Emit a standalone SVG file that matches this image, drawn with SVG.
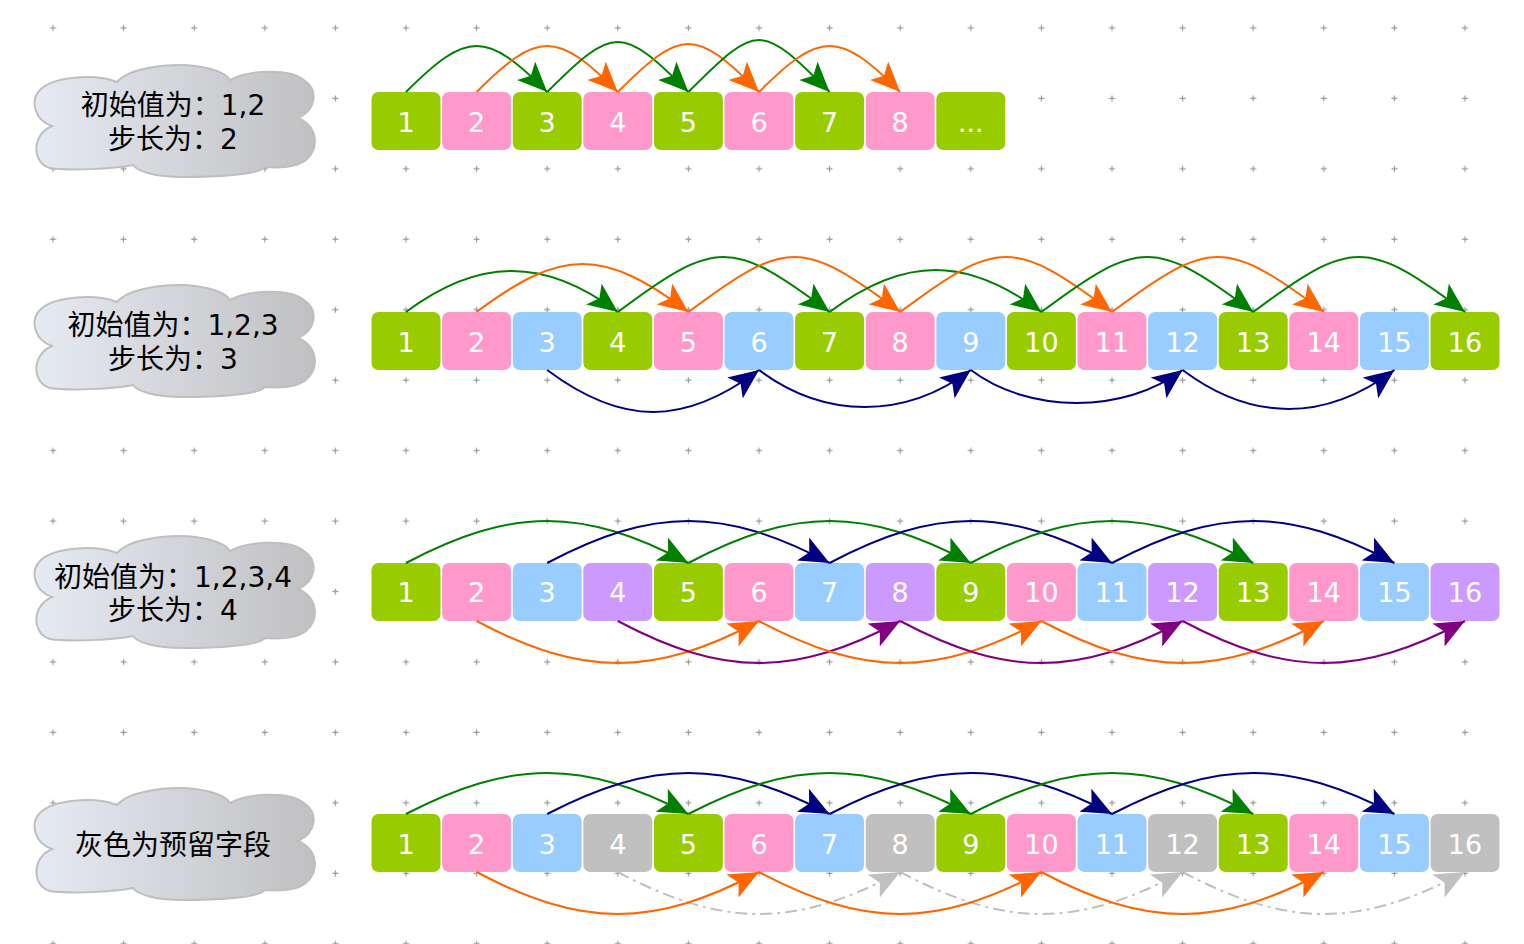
<svg xmlns="http://www.w3.org/2000/svg" xmlns:xlink="http://www.w3.org/1999/xlink" width="1524" height="944" viewBox="0 0 1524 944">
<style>
.g{fill:#99cc00}.p{fill:#ff99cc}.b{fill:#99ccff}.v{fill:#cc99ff}.x{fill:#c0c0c0}
.t{font-family:"DejaVu Sans",sans-serif;font-size:27px;fill:#ffffff;text-anchor:middle}
.ct{font-family:"DejaVu Sans","Noto Sans CJK SC",sans-serif;font-size:28px;fill:#000000;text-anchor:middle}
.cl{fill:url(#cg);stroke:#bfbfbf;stroke-width:2}
.a{fill:none;stroke-width:2}
.aG{stroke:#008000;marker-end:url(#mG)}
.aO{stroke:#ff6600;marker-end:url(#mO)}
.aN{stroke:#000080;marker-end:url(#mN)}
.aP{stroke:#800080;marker-end:url(#mP)}
.aX{stroke:#c0c0c0;stroke-dasharray:12 5 3 5;marker-end:url(#mX)}
</style>
<defs>
<linearGradient id="cg" x1="0" y1="0" x2="1" y2="0">
<stop offset="0" stop-color="#e6eaf2"/>
<stop offset="1" stop-color="#c0c0c2"/>
</linearGradient>
<pattern id="grid" patternUnits="userSpaceOnUse" x="17.7" y="-7.2" width="70.6" height="70.45">
<path d="M32.3,35.2 h6 M35.3,32.2 v6" stroke="#999999" stroke-width="1.2" fill="none"/>
</pattern>
<path id="cloud" d="M18,61 C0,55 -4,35 6,25 C18,12 60,8 83,17 C95,3 130,0 146,0 C165,0 190,5 196,15 C215,5 255,3 270,15 C285,25 282,45 264,53 C285,62 285,85 272,95 C262,103 245,103 231,102 C225,110 180,112 149,112 C120,112 103,106 99,100 C80,104 35,106 16,103 C-2,98 -3,70 18,61 Z"/>
<marker id="mG" markerUnits="userSpaceOnUse" markerWidth="31" markerHeight="26" viewBox="0 0 31 26" refX="30" refY="13" orient="auto"><path d="M0,0 L30,13 L0,26 L7,13 Z" fill="#008000"/></marker>
<marker id="mO" markerUnits="userSpaceOnUse" markerWidth="31" markerHeight="26" viewBox="0 0 31 26" refX="30" refY="13" orient="auto"><path d="M0,0 L30,13 L0,26 L7,13 Z" fill="#ff6600"/></marker>
<marker id="mN" markerUnits="userSpaceOnUse" markerWidth="31" markerHeight="26" viewBox="0 0 31 26" refX="30" refY="13" orient="auto"><path d="M0,0 L30,13 L0,26 L7,13 Z" fill="#000080"/></marker>
<marker id="mP" markerUnits="userSpaceOnUse" markerWidth="31" markerHeight="26" viewBox="0 0 31 26" refX="30" refY="13" orient="auto"><path d="M0,0 L30,13 L0,26 L7,13 Z" fill="#800080"/></marker>
<marker id="mX" markerUnits="userSpaceOnUse" markerWidth="31" markerHeight="26" viewBox="0 0 31 26" refX="30" refY="13" orient="auto"><path d="M0,0 L30,13 L0,26 L7,13 Z" fill="#c0c0c0"/></marker>
</defs>
<rect x="0" y="0" width="1524" height="944" fill="#ffffff"/>
<rect x="0" y="0" width="1524" height="944" fill="url(#grid)"/>

<g id="cloud1"><use xlink:href="#cloud" href="#cloud" class="cl" transform="translate(34,65)"/><text class="ct" x="173" y="115">初始值为：1,2</text><text class="ct" x="173" y="149">步长为：2</text></g>
<g id="cloud2"><use xlink:href="#cloud" href="#cloud" class="cl" transform="translate(34,285)"/><text class="ct" x="173" y="335">初始值为：1,2,3</text><text class="ct" x="173" y="369">步长为：3</text></g>
<g id="cloud3"><use xlink:href="#cloud" href="#cloud" class="cl" transform="translate(34,536)"/><text class="ct" x="173" y="587">初始值为：1,2,3,4</text><text class="ct" x="173" y="620">步长为：4</text></g>
<g id="cloud4"><use xlink:href="#cloud" href="#cloud" class="cl" transform="translate(34,788)"/><text class="ct" x="173" y="855">灰色为预留字段</text></g>

<!-- row 1 -->
<g id="r1c1"><rect class="g" x="371.5" y="92" width="69" height="58" rx="7"/><text class="t" x="406" y="132">1</text></g>
<g id="r1c2"><rect class="p" x="442.1" y="92" width="69" height="58" rx="7"/><text class="t" x="476.6" y="132">2</text></g>
<g id="r1c3"><rect class="g" x="512.7" y="92" width="69" height="58" rx="7"/><text class="t" x="547.2" y="132">3</text></g>
<g id="r1c4"><rect class="p" x="583.3" y="92" width="69" height="58" rx="7"/><text class="t" x="617.8" y="132">4</text></g>
<g id="r1c5"><rect class="g" x="653.9" y="92" width="69" height="58" rx="7"/><text class="t" x="688.4" y="132">5</text></g>
<g id="r1c6"><rect class="p" x="724.5" y="92" width="69" height="58" rx="7"/><text class="t" x="759" y="132">6</text></g>
<g id="r1c7"><rect class="g" x="795.1" y="92" width="69" height="58" rx="7"/><text class="t" x="829.6" y="132">7</text></g>
<g id="r1c8"><rect class="p" x="865.7" y="92" width="69" height="58" rx="7"/><text class="t" x="900.2" y="132">8</text></g>
<g id="r1c9"><rect class="g" x="936.3" y="92" width="69" height="58" rx="7"/><text class="t" x="970.8" y="132">...</text></g>

<!-- row 2 -->
<g id="r2c1"><rect class="g" x="371.5" y="312" width="69" height="58" rx="7"/><text class="t" x="406" y="352">1</text></g>
<g id="r2c2"><rect class="p" x="442.1" y="312" width="69" height="58" rx="7"/><text class="t" x="476.6" y="352">2</text></g>
<g id="r2c3"><rect class="b" x="512.7" y="312" width="69" height="58" rx="7"/><text class="t" x="547.2" y="352">3</text></g>
<g id="r2c4"><rect class="g" x="583.3" y="312" width="69" height="58" rx="7"/><text class="t" x="617.8" y="352">4</text></g>
<g id="r2c5"><rect class="p" x="653.9" y="312" width="69" height="58" rx="7"/><text class="t" x="688.4" y="352">5</text></g>
<g id="r2c6"><rect class="b" x="724.5" y="312" width="69" height="58" rx="7"/><text class="t" x="759" y="352">6</text></g>
<g id="r2c7"><rect class="g" x="795.1" y="312" width="69" height="58" rx="7"/><text class="t" x="829.6" y="352">7</text></g>
<g id="r2c8"><rect class="p" x="865.7" y="312" width="69" height="58" rx="7"/><text class="t" x="900.2" y="352">8</text></g>
<g id="r2c9"><rect class="b" x="936.3" y="312" width="69" height="58" rx="7"/><text class="t" x="970.8" y="352">9</text></g>
<g id="r2c10"><rect class="g" x="1006.9" y="312" width="69" height="58" rx="7"/><text class="t" x="1041.4" y="352">10</text></g>
<g id="r2c11"><rect class="p" x="1077.5" y="312" width="69" height="58" rx="7"/><text class="t" x="1112" y="352">11</text></g>
<g id="r2c12"><rect class="b" x="1148.1" y="312" width="69" height="58" rx="7"/><text class="t" x="1182.6" y="352">12</text></g>
<g id="r2c13"><rect class="g" x="1218.7" y="312" width="69" height="58" rx="7"/><text class="t" x="1253.2" y="352">13</text></g>
<g id="r2c14"><rect class="p" x="1289.3" y="312" width="69" height="58" rx="7"/><text class="t" x="1323.8" y="352">14</text></g>
<g id="r2c15"><rect class="b" x="1359.9" y="312" width="69" height="58" rx="7"/><text class="t" x="1394.4" y="352">15</text></g>
<g id="r2c16"><rect class="g" x="1430.5" y="312" width="69" height="58" rx="7"/><text class="t" x="1465" y="352">16</text></g>

<!-- row 3 -->
<g id="r3c1"><rect class="g" x="371.5" y="563" width="69" height="58" rx="7"/><text class="t" x="406" y="602">1</text></g>
<g id="r3c2"><rect class="p" x="442.1" y="563" width="69" height="58" rx="7"/><text class="t" x="476.6" y="602">2</text></g>
<g id="r3c3"><rect class="b" x="512.7" y="563" width="69" height="58" rx="7"/><text class="t" x="547.2" y="602">3</text></g>
<g id="r3c4"><rect class="v" x="583.3" y="563" width="69" height="58" rx="7"/><text class="t" x="617.8" y="602">4</text></g>
<g id="r3c5"><rect class="g" x="653.9" y="563" width="69" height="58" rx="7"/><text class="t" x="688.4" y="602">5</text></g>
<g id="r3c6"><rect class="p" x="724.5" y="563" width="69" height="58" rx="7"/><text class="t" x="759" y="602">6</text></g>
<g id="r3c7"><rect class="b" x="795.1" y="563" width="69" height="58" rx="7"/><text class="t" x="829.6" y="602">7</text></g>
<g id="r3c8"><rect class="v" x="865.7" y="563" width="69" height="58" rx="7"/><text class="t" x="900.2" y="602">8</text></g>
<g id="r3c9"><rect class="g" x="936.3" y="563" width="69" height="58" rx="7"/><text class="t" x="970.8" y="602">9</text></g>
<g id="r3c10"><rect class="p" x="1006.9" y="563" width="69" height="58" rx="7"/><text class="t" x="1041.4" y="602">10</text></g>
<g id="r3c11"><rect class="b" x="1077.5" y="563" width="69" height="58" rx="7"/><text class="t" x="1112" y="602">11</text></g>
<g id="r3c12"><rect class="v" x="1148.1" y="563" width="69" height="58" rx="7"/><text class="t" x="1182.6" y="602">12</text></g>
<g id="r3c13"><rect class="g" x="1218.7" y="563" width="69" height="58" rx="7"/><text class="t" x="1253.2" y="602">13</text></g>
<g id="r3c14"><rect class="p" x="1289.3" y="563" width="69" height="58" rx="7"/><text class="t" x="1323.8" y="602">14</text></g>
<g id="r3c15"><rect class="b" x="1359.9" y="563" width="69" height="58" rx="7"/><text class="t" x="1394.4" y="602">15</text></g>
<g id="r3c16"><rect class="v" x="1430.5" y="563" width="69" height="58" rx="7"/><text class="t" x="1465" y="602">16</text></g>

<!-- row 4 -->
<g id="r4c1"><rect class="g" x="371.5" y="814" width="69" height="58" rx="7"/><text class="t" x="406" y="854">1</text></g>
<g id="r4c2"><rect class="p" x="442.1" y="814" width="69" height="58" rx="7"/><text class="t" x="476.6" y="854">2</text></g>
<g id="r4c3"><rect class="b" x="512.7" y="814" width="69" height="58" rx="7"/><text class="t" x="547.2" y="854">3</text></g>
<g id="r4c4"><rect class="x" x="583.3" y="814" width="69" height="58" rx="7"/><text class="t" x="617.8" y="854">4</text></g>
<g id="r4c5"><rect class="g" x="653.9" y="814" width="69" height="58" rx="7"/><text class="t" x="688.4" y="854">5</text></g>
<g id="r4c6"><rect class="p" x="724.5" y="814" width="69" height="58" rx="7"/><text class="t" x="759" y="854">6</text></g>
<g id="r4c7"><rect class="b" x="795.1" y="814" width="69" height="58" rx="7"/><text class="t" x="829.6" y="854">7</text></g>
<g id="r4c8"><rect class="x" x="865.7" y="814" width="69" height="58" rx="7"/><text class="t" x="900.2" y="854">8</text></g>
<g id="r4c9"><rect class="g" x="936.3" y="814" width="69" height="58" rx="7"/><text class="t" x="970.8" y="854">9</text></g>
<g id="r4c10"><rect class="p" x="1006.9" y="814" width="69" height="58" rx="7"/><text class="t" x="1041.4" y="854">10</text></g>
<g id="r4c11"><rect class="b" x="1077.5" y="814" width="69" height="58" rx="7"/><text class="t" x="1112" y="854">11</text></g>
<g id="r4c12"><rect class="x" x="1148.1" y="814" width="69" height="58" rx="7"/><text class="t" x="1182.6" y="854">12</text></g>
<g id="r4c13"><rect class="g" x="1218.7" y="814" width="69" height="58" rx="7"/><text class="t" x="1253.2" y="854">13</text></g>
<g id="r4c14"><rect class="p" x="1289.3" y="814" width="69" height="58" rx="7"/><text class="t" x="1323.8" y="854">14</text></g>
<g id="r4c15"><rect class="b" x="1359.9" y="814" width="69" height="58" rx="7"/><text class="t" x="1394.4" y="854">15</text></g>
<g id="r4c16"><rect class="x" x="1430.5" y="814" width="69" height="58" rx="7"/><text class="t" x="1465" y="854">16</text></g>

<g id="connectors">
<!-- row 1 -->
<path class="a aG" d="M406,92 C467.3,30.7 485.9,30.7 547.2,92"/>
<path class="a aO" d="M476.6,92 C537.9,30.7 556.5,30.7 617.8,92"/>
<path class="a aG" d="M547.2,92 C613.9,25.3 621.7,25.3 688.4,92"/>
<path class="a aO" d="M617.8,92 C681.8,28 695,28 759,92"/>
<path class="a aG" d="M688.4,92 C757.7,22.7 760.3,22.7 829.6,92"/>
<path class="a aO" d="M759,92 C820.3,30.7 838.9,30.7 900.2,92"/>
<!-- row 2 top -->
<path class="a aG" d="M406,312 C478.9,257.3 544.9,257.3 617.8,312"/>
<path class="a aO" d="M476.6,312 C561.9,248 603.1,248 688.4,312"/>
<path class="a aG" d="M617.8,312 C715.6,238.7 731.8,238.7 829.6,312"/>
<path class="a aO" d="M688.4,312 C786.2,238.7 802.4,238.7 900.2,312"/>
<path class="a aG" d="M829.6,312 C904.3,256 966.7,256 1041.4,312"/>
<path class="a aO" d="M900.2,312 C998,238.7 1014.2,238.7 1112,312"/>
<path class="a aG" d="M1041.4,312 C1139.2,238.7 1155.4,238.7 1253.2,312"/>
<path class="a aO" d="M1112,312 C1209.8,238.7 1226,238.7 1323.8,312"/>
<path class="a aG" d="M1253.2,312 C1351,238.7 1367.2,238.7 1465,312"/>
<!-- row 2 bottom -->
<path class="a aN" d="M547.2,370 C621.9,426 684.3,426 759,370"/>
<path class="a aN" d="M759,370 C824.8,419.3 905,419.3 970.8,370"/>
<path class="a aN" d="M970.8,370 C1029.5,414 1123.9,414 1182.6,370"/>
<path class="a aN" d="M1182.6,370 C1251.9,422 1325.1,422 1394.4,370"/>
<!-- row 3 top -->
<path class="a aG" d="M406,563 C511.7,507 582.7,507 688.4,563"/>
<path class="a aN" d="M547.2,563 C652.9,507 723.9,507 829.6,563"/>
<path class="a aG" d="M688.4,563 C794.1,507 865.1,507 970.8,563"/>
<path class="a aN" d="M829.6,563 C935.3,507 1006.3,507 1112,563"/>
<path class="a aG" d="M970.8,563 C1076.5,507 1147.5,507 1253.2,563"/>
<path class="a aN" d="M1112,563 C1217.7,507 1288.7,507 1394.4,563"/>
<!-- row 3 bottom -->
<path class="a aO" d="M476.6,621 C582.3,677 653.3,677 759,621"/>
<path class="a aP" d="M617.8,621 C723.5,677 794.5,677 900.2,621"/>
<path class="a aO" d="M759,621 C864.7,677 935.7,677 1041.4,621"/>
<path class="a aP" d="M900.2,621 C1005.9,677 1076.9,677 1182.6,621"/>
<path class="a aO" d="M1041.4,621 C1147.1,677 1218.1,677 1323.8,621"/>
<path class="a aP" d="M1182.6,621 C1288.3,677 1359.3,677 1465,621"/>
<!-- row 4 top -->
<path class="a aG" d="M406,814 C511.7,759.3 582.7,759.3 688.4,814"/>
<path class="a aN" d="M547.2,814 C652.9,759.3 723.9,759.3 829.6,814"/>
<path class="a aG" d="M688.4,814 C794.1,759.3 865.1,759.3 970.8,814"/>
<path class="a aN" d="M829.6,814 C935.3,759.3 1006.3,759.3 1112,814"/>
<path class="a aG" d="M970.8,814 C1076.5,759.3 1147.5,759.3 1253.2,814"/>
<path class="a aN" d="M1112,814 C1217.7,759.3 1288.7,759.3 1394.4,814"/>
<!-- row 4 bottom -->
<path class="a aX" d="M617.8,872 C723.5,928 794.5,928 900.2,872"/>
<path class="a aX" d="M900.2,872 C1005.9,928 1076.9,928 1182.6,872"/>
<path class="a aX" d="M1182.6,872 C1288.3,928 1359.3,928 1465,872"/>
<path class="a aO" d="M476.6,872 C582.3,928 653.3,928 759,872"/>
<path class="a aO" d="M759,872 C864.7,928 935.7,928 1041.4,872"/>
<path class="a aO" d="M1041.4,872 C1147.1,928 1218.1,928 1323.8,872"/>
</g>
</svg>
